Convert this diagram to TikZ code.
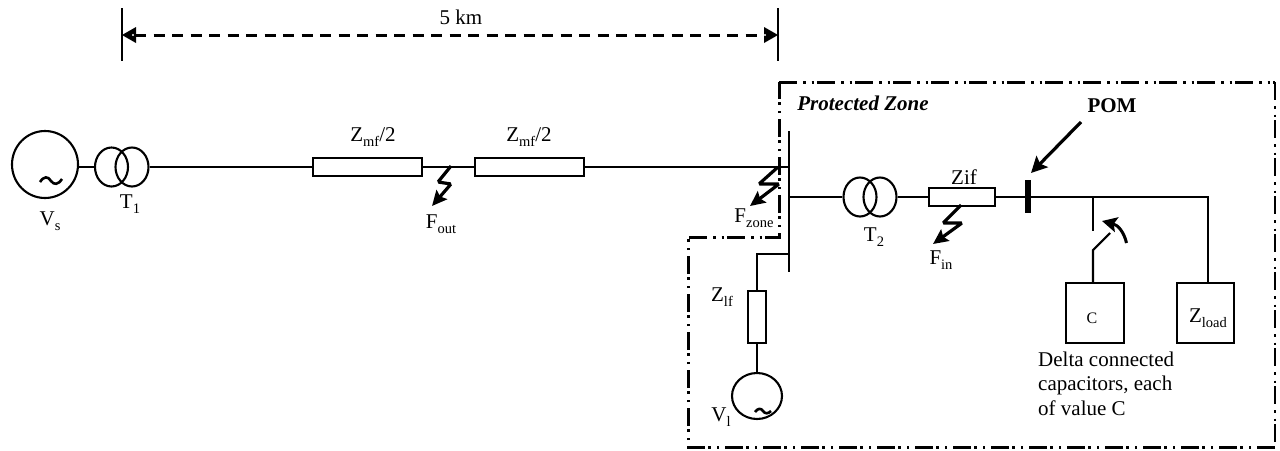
\documentclass[tikz,border=0pt]{standalone}
\usepackage{fontspec}
\setmainfont{Liberation Serif}
\usetikzlibrary{shapes.geometric,arrows.meta,calc}
\newcommand\subt[1]{\raisebox{-0.22em}{\fontsize{14.5}{15}\selectfont #1}}
\tikzset{
  wire/.style={line width=2.1pt,draw=black},
  imp/.style={draw=black,line width=2.1pt,fill=white,rectangle,inner sep=0pt,minimum width=#1},
  xf/.style={draw=black,line width=2.1pt,ellipse,inner sep=0pt,minimum width=33pt,minimum height=39pt},
  gen/.style={draw=black,line width=2.1pt,ellipse,inner sep=0pt},
  lab/.style={inner sep=0pt,font=\fontsize{21}{23}\selectfont},
  zone/.style={line width=3pt,dash pattern=on 18pt off 6pt on 2.5pt off 6pt on 2.5pt off 3pt},
  dim/.style={line width=3pt,dash pattern=on 11pt off 7.5pt},
  flash/.style={line width=3.2pt,rounded corners=1.5pt,-{Stealth[length=15pt,width=14pt,inset=2.5pt]}},
  tick/.style={line width=2.1pt}
}
\begin{document}
\begin{tikzpicture}[x=1pt,y=-1pt]
\useasboundingbox (0,0) rectangle (1280,450);
% dimension
\coordinate (dla) at (122,8); \coordinate (dlb) at (122,61);
\coordinate (dra) at (778,8); \coordinate (drb) at (778,61);
\coordinate (dl) at (122,35); \coordinate (dr) at (778,35);
\draw[tick] (dla) -- (dlb);
\draw[tick] (dra) -- (drb);
\draw[dim] (135,35) -- (765,35);
\fill (dl) -- (136,27) -- (136,43) -- cycle;
\fill (dr) -- (764,27) -- (764,43) -- cycle;
\fill[white] (133,35) circle (1.2pt);
\fill[white] (765,35) circle (1.2pt);
\node[lab] (km) at (461,17) {5 km};
% protected zone
\coordinate (z1) at (779,82); \coordinate (z2) at (1275,82);
\coordinate (z3) at (1275,447); \coordinate (z4) at (688,447);
\coordinate (z5) at (688,237); \coordinate (z6) at (779,237);
\draw[zone] (z1) -- (z2);
\draw[zone,line width=1.5pt] (z2) -- (z3);
\draw[zone] (z3) -- (z4) -- (z5) -- (z6) -- (z1);
% source side
\node[gen,minimum width=66pt,minimum height=67pt] (vs) at (45,164.5) {};
\node[xf] (t1a) at (111.5,167) {};
\node[xf] (t1b) at (132,167) {};
\node[imp=109pt,minimum height=18pt] (zm1) at (367.5,167) {};
\node[imp=109pt,minimum height=18pt] (zm2) at (529.5,167) {};
\coordinate (bt) at (789,131); \coordinate (bb) at (789,272);
\coordinate (b1) at (789,167); \coordinate (b2) at (789,197); \coordinate (b3) at (789,254);
\draw[wire] (bt) -- (bb);
\draw[wire] (vs.east |- t1a.west) -- (t1a.west);
\draw[wire] (t1b.east) -- (zm1.west);
\draw[wire] (zm1.east) -- (zm2.west);
\draw[wire] (zm2.east) -- (b1);
\draw[line width=2.6pt] (40,182) .. controls (44,176) and (48,176) .. (51,181) .. controls (54,185) and (58,185) .. (62,179);
% T2 branch
\node[xf] (t2a) at (860,197) {};
\node[xf] (t2b) at (880,197) {};
\node[imp=66pt,minimum height=18pt] (zif) at (962,197) {};
\fill (1025,180) rectangle (1031,213);
\coordinate (pom) at (1028,197);
\coordinate (jct) at (1093,197); \coordinate (ld) at (1208,197);
\node[draw,line width=2.1pt,minimum width=58pt,minimum height=60pt,inner sep=0pt] (cb) at (1095,313) {};
\node[draw,line width=2.1pt,minimum width=57pt,minimum height=60pt,inner sep=0pt] (zl) at (1205.5,313) {};
\draw[wire] (b2) -- (t2a.west);
\draw[wire] (t2b.east) -- (zif.west);
\draw[wire] (zif.east) -- (pom) -- (ld) -- (ld |- zl.north);
% switch
\coordinate (swa) at (1093,231); \coordinate (swb) at (1093,250); \coordinate (swc) at (1110,233);
\draw[wire] (jct) -- (swa);
\draw[wire] (jct |- cb.north) -- (swb) -- (swc);
\draw[line width=3pt,-{Stealth[length=15pt,width=15pt,inset=3pt]}] (1126.5,243) .. controls (1124,232) and (1118,225) .. (1102,221);
% POM
\coordinate (poma) at (1081,122); \coordinate (pomb) at (1031,173);
\draw[line width=3.2pt,-{Stealth[length=16pt,width=16pt,inset=3pt]}] (poma) -- (pomb);
\node[lab,font=\fontsize{21}{23}\selectfont\bfseries] (pomt) at (1112,106) {POM};
% left branch
\node[imp=18pt,minimum height=52pt] (zlf) at (757,317) {};
\node[gen,minimum width=50pt,minimum height=46pt] (vl) at (757,396) {};
\coordinate (bc) at (757,254);
\draw[wire] (b3) -- (bc) -- (zlf.north);
\draw[wire] (zlf.south) -- (vl.north);
\draw[line width=2.6pt] (755,412) .. controls (758,408) and (761,408) .. (763,411) .. controls (765,414) and (768,414) .. (771,411);
% faults
\coordinate (fo0) at (451,166); \coordinate (fo1) at (438,182); \coordinate (fo2) at (451,184); \coordinate (fo3) at (432,206);
\draw[flash] (fo0) -- (fo1) -- (fo2) -- (fo3);
\coordinate (fz0) at (778,167); \coordinate (fz1) at (759,184); \coordinate (fz2) at (779,184); \coordinate (fz3) at (750,206);
\draw[flash] (fz0) -- (fz1) -- (fz2) -- (fz3);
\coordinate (fi0) at (961,205); \coordinate (fi1) at (943,223); \coordinate (fi2) at (962,223); \coordinate (fi3) at (933,244);
\draw[flash] (fi0) -- (fi1) -- (fi2) -- (fi3);
% labels
\node[lab] (lz1) at (373,137) {Z\subt{mf}/2};
\node[lab] (lz2) at (529,137) {Z\subt{mf}/2};
\node[lab] (lt1) at (130,204) {T\subt{1}};
\node[lab] (lvs) at (50,221) {V\subt{s}};
\node[lab] (lfo) at (441,224) {F\subt{out}};
\node[lab] (lfz) at (754,218) {F\subt{zone}};
\node[lab,font=\fontsize{21}{23}\selectfont\bfseries\itshape] (lpz) at (863,103) {Protected Zone};
\node[lab] (lt2) at (874,237) {T\subt{2}};
\node[lab] (lzif) at (964,177) {Zif};
\node[lab] (lfi) at (941,260) {F\subt{in}};
\node[lab] (lzlf) at (722,297) {Z\subt{lf}};
\node[lab] (lvl) at (721,417) {V\subt{l}};
\node[lab,font=\fontsize{16}{18}\selectfont] (lc) at (1092,318) {C};
\node[lab] (lzl) at (1208,318) {Z\subt{load}};
\node[lab,anchor=north west,align=left,font=\fontsize{21}{24.5}\selectfont] (ldc) at (1038,351.5) {Delta connected\\capacitors, each\\of value C};
\end{tikzpicture}
\end{document}
